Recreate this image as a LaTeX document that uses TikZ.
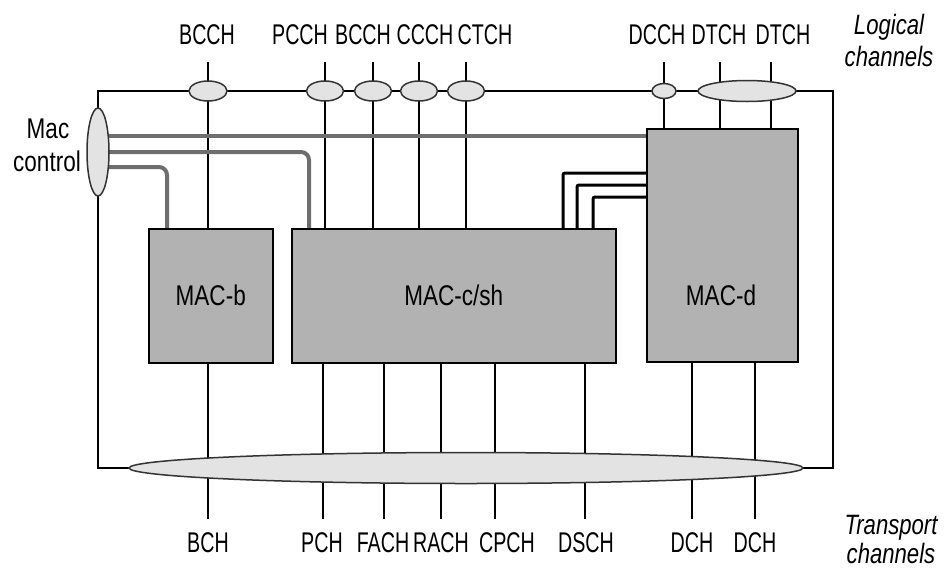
\documentclass[tikz,border=0pt]{standalone}
\usepackage{fontspec}
\setmainfont{Liberation Sans}[FakeStretch=0.79]
\newfontfamily\capsfont{Liberation Sans}[FakeStretch=0.69]
\usetikzlibrary{shapes.geometric}
\pgfdeclarelayer{background}
\pgfsetlayers{background,main}
\definecolor{boxgray}{gray}{0.70}
\definecolor{ellgray}{gray}{0.89}
\definecolor{ctlgray}{gray}{0.43}
\definecolor{edgegray}{gray}{0.2}
\begin{document}
\begin{tikzpicture}[x=1pt,y=-1pt,
 lbl/.style={font=\fontsize{28.5}{30}\selectfont\capsfont, anchor=base, inner sep=0},
 txt/.style={font=\fontsize{28.5}{30}\selectfont, anchor=base, inner sep=0},
 ital/.style={font=\fontsize{28}{30}\selectfont\itshape, anchor=base, inner sep=0},
 chan/.style={line width=2.7pt},
 frameline/.style={line width=1.5pt},
 macbox/.style={draw, line width=1.5pt, fill=boxgray, anchor=north west, inner sep=0,
   font=\fontsize{28.5}{30}\selectfont},
 lens/.style={ellipse, draw=edgegray, line width=1.5pt, fill=ellgray, inner sep=0},
 ctl/.style={line width=4pt, draw=ctlgray, rounded corners=8pt},
 blk/.style={line width=3pt, rounded corners=2pt}]
\useasboundingbox (0,0) rectangle (948,571);

% MAC boxes
\node[macbox, minimum width=124pt, minimum height=134pt] (macb) at (148,228) {MAC-b};
\node[macbox, minimum width=324pt, minimum height=134pt] (macc) at (291,228) {MAC-c/sh};
\node[macbox, minimum width=151pt, minimum height=233pt] (macd) at (646,128) {};
\node[txt] (macdlbl) at (721,305) {MAC-d};

% ellipses
\node[lens, minimum width=38pt, minimum height=20pt] (e1) at (208,91) {};
\node[lens, minimum width=37pt, minimum height=20pt] (e2) at (325,91) {};
\node[lens, minimum width=37pt, minimum height=20pt] (e3) at (373,91) {};
\node[lens, minimum width=37pt, minimum height=20pt] (e4) at (419,91) {};
\node[lens, minimum width=37pt, minimum height=20pt] (e5) at (466,91) {};
\node[lens, minimum width=24pt, minimum height=15pt] (e6) at (664,91) {};
\node[lens, minimum width=98pt, minimum height=21pt] (e7) at (747,91) {};
\node[lens, minimum width=22pt, minimum height=88pt] (mc) at (98,152) {};
\node[lens, minimum width=674pt, minimum height=31pt] (bot) at (466,468) {};

% top labels
\node[lbl] (tBCCH) at (207,44) {BCCH};
\node[lbl] (tPCCH) at (300,44) {PCCH};
\node[lbl] (tBCCHb) at (363,44) {BCCH};
\node[lbl] (tCCCH) at (425,44) {CCCH};
\node[lbl] (tCTCH) at (485,44) {CTCH};
\node[lbl] (tDCCH) at (657,44) {DCCH};
\node[lbl] (tDTCH) at (719,44) {DTCH};
\node[lbl] (tDTCHb) at (783,44) {DTCH};
\node[ital] (log1) at (889,34) {Logical};
\node[ital] (log2) at (889,66) {channels};

% bottom labels
\node[lbl] (bBCH) at (208,552) {BCH};
\node[lbl] (bPCH) at (322,552) {PCH};
\node[lbl] (bFACH) at (383,552) {FACH};
\node[lbl] (bRACH) at (441,552) {RACH};
\node[lbl] (bCPCH) at (507,552) {CPCH};
\node[lbl] (bDSCH) at (586,552) {DSCH};
\node[lbl] (bDCH) at (692,552) {DCH};
\node[lbl] (bDCHb) at (755,552) {DCH};
\node[ital] (tr1) at (891,534) {Transport};
\node[ital] (tr2) at (891,563) {channels};

% Mac control label
\node[txt] (mac1) at (48,138) {Mac};
\node[txt] (mac2) at (47,171) {control};

% channel end points
\coordinate (cBCCH) at (208,62);
\coordinate (cPCCH) at (325,62);
\coordinate (cBCCHb) at (373,62);
\coordinate (cCCCH) at (419,62);
\coordinate (cCTCH) at (466,62);
\coordinate (cDCCH) at (664,62);
\coordinate (cDTCH) at (720,62);
\coordinate (cDTCHb) at (771,62);
\coordinate (dBCH) at (208,519);
\coordinate (dPCH) at (323,519);
\coordinate (dFACH) at (384,519);
\coordinate (dRACH) at (441,519);
\coordinate (dCPCH) at (495,519);
\coordinate (dDSCH) at (585,519);
\coordinate (dDCH) at (692,519);
\coordinate (dDCHb) at (755,519);

\begin{pgfonlayer}{background}
 % frame
 \draw[frameline] (mc.center |- e1.center) rectangle (833,0 |- bot.center);
 % logical channels
 \draw[chan] (cBCCH) -- (cBCCH |- macb.north);
 \draw[chan] (cPCCH) -- (cPCCH |- macc.north);
 \draw[chan] (cBCCHb) -- (cBCCHb |- macc.north);
 \draw[chan] (cCCCH) -- (cCCCH |- macc.north);
 \draw[chan] (cCTCH) -- (cCTCH |- macc.north);
 \draw[chan] (cDCCH) -- (cDCCH |- macd.north);
 \draw[chan] (cDTCH) -- (cDTCH |- macd.north);
 \draw[chan] (cDTCHb) -- (cDTCHb |- macd.north);
 % transport channels
 \draw[chan] (dBCH |- macb.south) -- (dBCH);
 \draw[chan] (dPCH |- macc.south) -- (dPCH);
 \draw[chan] (dFACH |- macc.south) -- (dFACH);
 \draw[chan] (dRACH |- macc.south) -- (dRACH);
 \draw[chan] (dCPCH |- macc.south) -- (dCPCH);
 \draw[chan] (dDSCH |- macc.south) -- (dDSCH);
 \draw[chan] (dDCH |- macd.south) -- (dDCH);
 \draw[chan] (dDCHb |- macd.south) -- (dDCHb);
 % Mac control lines
 \draw[ctl] (mc.center |- 0,136) -- (macd.west |- 0,136);
 \draw[ctl] (mc.center) -- (309,152) -- (309,0 |- macc.north);
 \draw[ctl] (mc.center |- 0,167) -- (167,167) -- (167,0 |- macb.north);
 % MAC-c/sh to MAC-d lines
 \draw[blk] (563,0 |- macc.north) -- (563,173) -- (macd.west |- 0,173);
 \draw[blk] (577,0 |- macc.north) -- (577,185) -- (macd.west |- 0,185);
 \draw[blk] (593,0 |- macc.north) -- (593,197) -- (macd.west |- 0,197);
\end{pgfonlayer}
\end{tikzpicture}
\end{document}
